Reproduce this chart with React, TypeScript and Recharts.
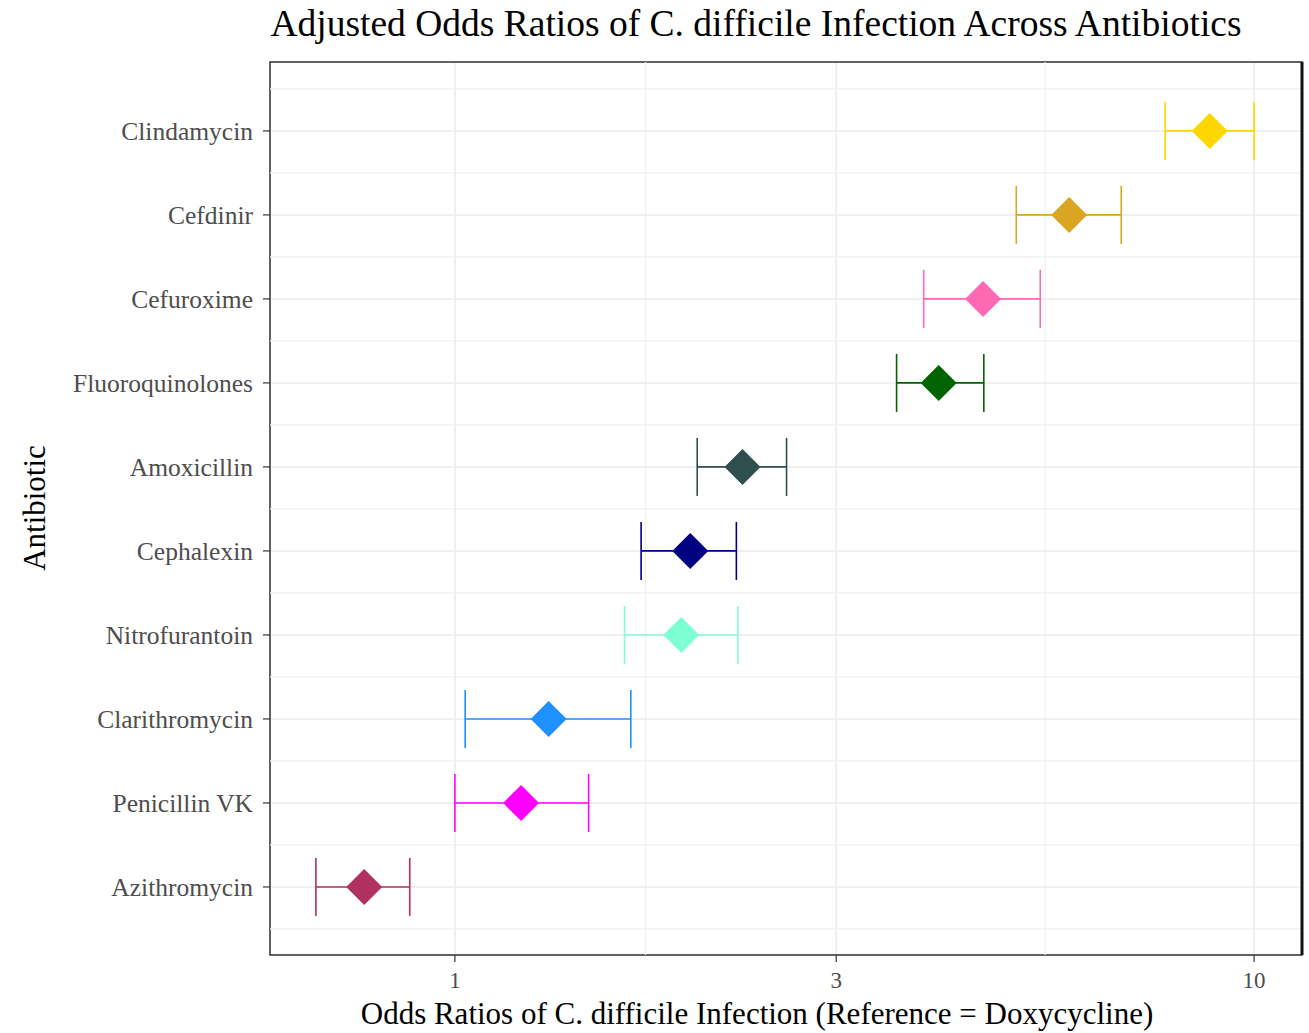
import {
  CartesianGrid,
  ErrorBar,
  ReferenceArea,
  ReferenceLine,
  Scatter,
  ScatterChart,
  XAxis,
  YAxis,
} from "recharts";

const ANTIBIOTICS = [
  "Clindamycin",
  "Cefdinir",
  "Cefuroxime",
  "Fluoroquinolones",
  "Amoxicillin",
  "Cephalexin",
  "Nitrofurantoin",
  "Clarithromycin",
  "Penicillin VK",
  "Azithromycin",
];
const ODDS_RATIO = [8.8, 5.87, 4.58, 4.03, 2.29, 1.97, 1.92, 1.31, 1.21, 0.77];
const CI_LOWER = [7.74, 5.04, 3.86, 3.57, 2.01, 1.71, 1.63, 1.03, 1.0, 0.67];
const CI_UPPER = [10.0, 6.82, 5.4, 4.59, 2.6, 2.25, 2.26, 1.66, 1.47, 0.878];
const COLORS = [
  "#FFD700",
  "#DAA520",
  "#FF69B4",
  "#006400",
  "#2F4F4F",
  "#000080",
  "#7FFFD4",
  "#1E90FF",
  "#FF00FF",
  "#B03060",
];
const X_TICKS = [1, 3, 10];
const X_MINOR = [Math.sqrt(3), Math.sqrt(30)];

const X_MIN = 0.587;
const X_MAX = 11.48;
const Y_MIN = -0.82;
const Y_MAX = 9.81;
const FONT = "'Liberation Serif', 'DejaVu Serif', serif";

function Diamond(props: any) {
  const { cx, cy, fill } = props;
  const r = 18;
  return (
    <polygon
      points={`${cx},${cy - r} ${cx + r},${cy} ${cx},${cy + r} ${cx - r},${cy}`}
      fill={fill}
    />
  );
}

export default function App() {
  const yTicks = ANTIBIOTICS.map((_, i) => i);
  const yMinor = [-1, ...yTicks].map((i) => i + 0.5);

  return (
    <div style={{ position: "absolute", left: 0, top: 0, width: 1309, height: 1033, background: "#fff", fontFamily: FONT }}>
      <div
        style={{
          position: "absolute",
          top: 2,
          left: 756,
          transform: "translateX(-50%)",
          whiteSpace: "nowrap",
          fontSize: 37.5,
          lineHeight: "44px",
          color: "#000",
        }}
      >
        Adjusted Odds Ratios of C. difficile Infection Across Antibiotics
      </div>
      <div
        style={{
          position: "absolute",
          top: 996,
          left: 757,
          transform: "translateX(-50%)",
          whiteSpace: "nowrap",
          fontSize: 31,
          lineHeight: "36px",
          color: "#000",
        }}
      >
        Odds Ratios of C. difficile Infection (Reference = Doxycycline)
      </div>
      <div
        style={{
          position: "absolute",
          top: 508,
          left: 35,
          transform: "translate(-50%, -50%) rotate(-90deg)",
          whiteSpace: "nowrap",
          fontSize: 31,
          lineHeight: "36px",
          color: "#000",
        }}
      >
        Antibiotic
      </div>
      <ScatterChart width={1309} height={1033} margin={{ top: 62, right: 7, bottom: 0, left: 0 }}>
        <CartesianGrid stroke="#EBEBEB" strokeWidth={1.5} />
        {yMinor.map((v) => (
          <ReferenceLine key={`ym${v}`} y={v} stroke="#EFEFEF" strokeWidth={1.2} />
        ))}
        {X_MINOR.map((v) => (
          <ReferenceLine key={`xm${v}`} x={v} stroke="#EFEFEF" strokeWidth={1.2} />
        ))}
        <XAxis
          type="number"
          dataKey="x"
          scale="log"
          domain={[X_MIN, X_MAX]}
          allowDataOverflow
          ticks={X_TICKS}
          height={78}
          axisLine={false}
          tickLine={{ stroke: "#333", strokeWidth: 1.2 }}
          tickSize={7}
          tickMargin={10}
          tick={{ fill: "#4D4D4D", fontSize: 23, fontFamily: FONT }}
        />
        <YAxis
          type="number"
          dataKey="y"
          reversed
          domain={[Y_MIN, Y_MAX]}
          allowDataOverflow
          ticks={yTicks}
          interval={0}
          width={270}
          axisLine={false}
          tickLine={{ stroke: "#333", strokeWidth: 1.2 }}
          tickSize={7}
          tickMargin={10}
          tickFormatter={(v: number) => ANTIBIOTICS[v] ?? ""}
          tick={{ fill: "#4D4D4D", fontSize: 25.5, fontFamily: FONT }}
        />
        <ReferenceArea
          x1={X_MIN}
          x2={X_MAX}
          y1={Y_MIN}
          y2={Y_MAX}
          fill="none"
          stroke="#333"
          strokeWidth={1.5}
        />
        <ReferenceLine x={X_MAX} stroke="#111" strokeWidth={3} />
        {ANTIBIOTICS.map((name, i) => (
          <Scatter
            key={name}
            name={name}
            data={[
              {
                x: ODDS_RATIO[i],
                y: i,
                err: [ODDS_RATIO[i] - CI_LOWER[i], CI_UPPER[i] - ODDS_RATIO[i]],
              },
            ]}
            fill={COLORS[i]}
            shape={Diamond}
            isAnimationActive={false}
          >
            <ErrorBar
              dataKey="err"
              direction="x"
              width={29}
              stroke={COLORS[i]}
              strokeWidth={1.6}
              isAnimationActive={false}
            />
          </Scatter>
        ))}
      </ScatterChart>
    </div>
  );
}
